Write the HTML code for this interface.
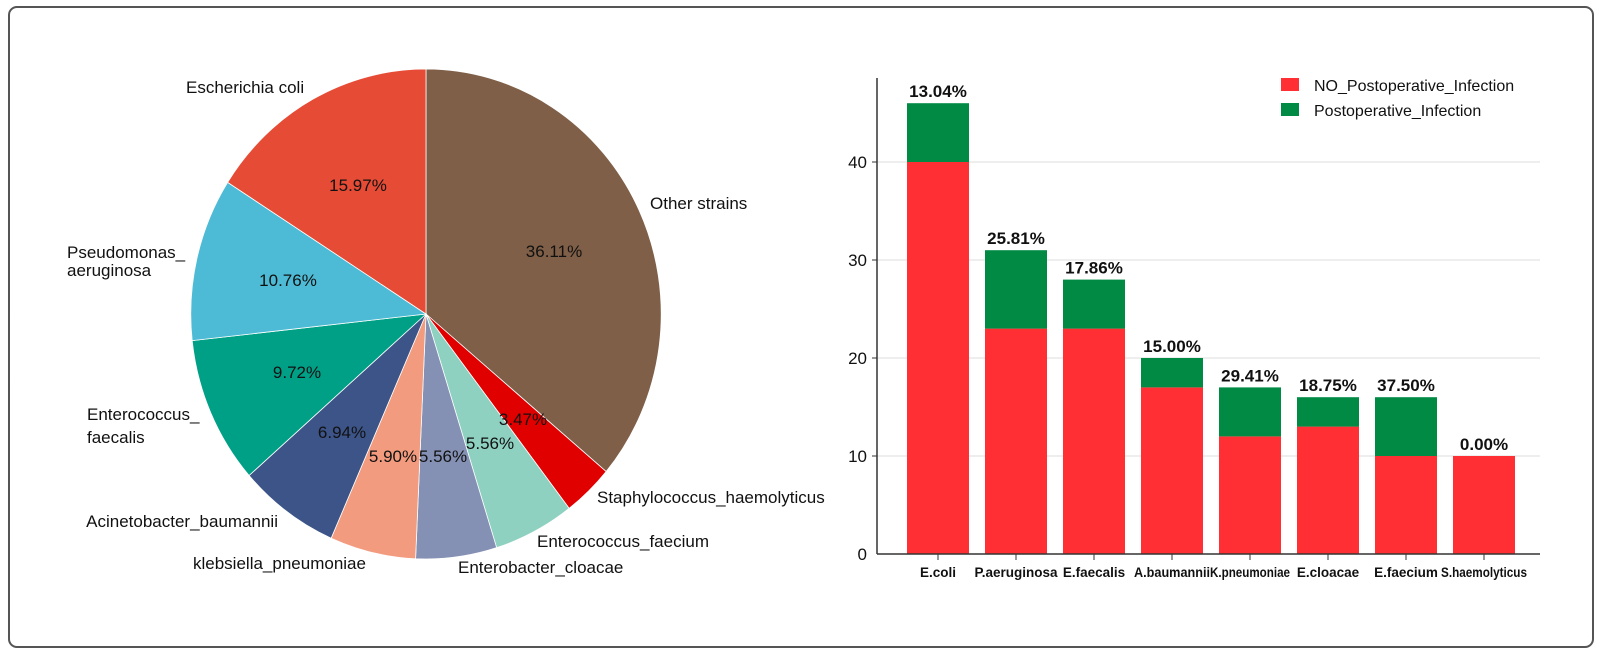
<!DOCTYPE html>
<html><head><meta charset="utf-8"><style>
body{margin:0;background:#fff;width:1600px;height:655px;overflow:hidden}
svg{font-family:"Liberation Sans",sans-serif}
</style></head><body>
<svg id="s" width="1600" height="655" xmlns="http://www.w3.org/2000/svg">
<rect x="9" y="7" width="1584" height="640" rx="8" fill="none" stroke="#555" stroke-width="2"/>
<g id="pie" transform="translate(426,314) scale(0.96,1)"></g>
<g font-size="17" fill="#111">
<text x="358" y="191" text-anchor="middle">15.97%</text>
<text x="288" y="286" text-anchor="middle">10.76%</text>
<text x="297" y="378" text-anchor="middle">9.72%</text>
<text x="342" y="438" text-anchor="middle">6.94%</text>
<text x="393" y="462" text-anchor="middle">5.90%</text>
<text x="443" y="462" text-anchor="middle">5.56%</text>
<text x="490" y="449" text-anchor="middle">5.56%</text>
<text x="523" y="425" text-anchor="middle">3.47%</text>
<text x="554" y="257" text-anchor="middle">36.11%</text>
<text x="186" y="93">Escherichia coli</text>
<text x="650" y="209">Other strains</text>
<text x="67" y="258">Pseudomonas_</text>
<text x="67" y="276">aeruginosa</text>
<text x="87" y="420">Enterococcus_</text>
<text x="87" y="443">faecalis</text>
<text x="278" y="527" text-anchor="end">Acinetobacter_baumannii</text>
<text x="193" y="569">klebsiella_pneumoniae</text>
<text x="458" y="573">Enterobacter_cloacae</text>
<text x="537" y="547">Enterococcus_faecium</text>
<text x="597" y="503">Staphylococcus_haemolyticus</text>
</g>
<g id="bars"></g>
<g font-size="16" fill="#111">
<rect x="1281" y="78" width="18" height="13" fill="#ff2f33"/>
<text x="1314" y="91">NO_Postoperative_Infection</text>
<rect x="1281" y="103" width="18" height="13" fill="#008a44"/>
<text x="1314" y="116">Postoperative_Infection</text>
</g>
</svg>
<script>
var NS="http://www.w3.org/2000/svg";
function el(p,t,a,txt){var e=document.createElementNS(NS,t);for(var k in a)if(a[k]!=null)e.setAttribute(k,a[k]);if(txt)e.textContent=txt;p.appendChild(e);return e;}
var r=245;
var d=[[36.11,"#7f5f47"],[3.47,"#e00000"],[5.56,"#8fd1c0"],[5.56,"#8491b4"],[5.90,"#f39b7f"],[6.94,"#3c5488"],[9.72,"#00a087"],[10.76,"#4dbbd5"],[15.97,"#e64b35"]];
var pie=document.getElementById("pie"),a=0;
d.forEach(function(s){var a2=a+s[0]/99.99*2*Math.PI;
var x1=r*Math.sin(a),y1=-r*Math.cos(a),x2=r*Math.sin(a2),y2=-r*Math.cos(a2);
el(pie,"path",{d:"M0,0L"+x1+","+y1+"A"+r+","+r+" 0 "+(a2-a>Math.PI?1:0)+" 1 "+x2+","+y2+"Z",fill:s[1],stroke:"#fff","stroke-width":0.8});a=a2;});
var g=document.getElementById("bars"),y0=554,u=9.8,ax=877;
[10,20,30,40].forEach(function(v){el(g,"line",{x1:ax,x2:1540,y1:y0-v*u,y2:y0-v*u,stroke:"#ddd"});
el(g,"line",{x1:ax-5,x2:ax,y1:y0-v*u,y2:y0-v*u,stroke:"#333"});});
[0,10,20,30,40].forEach(function(v){el(g,"text",{x:ax-10,y:y0-v*u+6,"text-anchor":"end","font-size":17,fill:"#111"},String(v));});
var B=[["E.coli",40,6,"13.04%"],["P.aeruginosa",23,8,"25.81%"],["E.faecalis",23,5,"17.86%"],["A.baumannii",17,3,"15.00%"],["K.pneumoniae",12,5,"29.41%"],["E.cloacae",13,3,"18.75%"],["E.faecium",10,6,"37.50%"],["S.haemolyticus",10,0,"0.00%"]];
B.forEach(function(b,i){var c=938+78*i;
el(g,"rect",{x:c-31,y:y0-b[1]*u,width:62,height:b[1]*u,fill:"#ff2f33"});
if(b[2])el(g,"rect",{x:c-31,y:y0-(b[1]+b[2])*u,width:62,height:b[2]*u,fill:"#008a44"});
el(g,"text",{x:c,y:y0-(b[1]+b[2])*u-6,"text-anchor":"middle","font-size":17,"font-weight":"bold",fill:"#111"},b[3]);
el(g,"line",{x1:c,x2:c,y1:y0,y2:y0+6,stroke:"#333"});
var tl=b[0]=="K.pneumoniae"?80:(b[0]=="S.haemolyticus"?86:(b[0]=="A.baumannii"?76:null));
el(g,"text",{x:c,y:y0+23,"text-anchor":"middle","font-size":13.5,"font-weight":"bold",fill:"#111",textLength:tl,lengthAdjust:tl?"spacingAndGlyphs":null},b[0]);});
el(g,"line",{x1:ax,x2:ax,y1:78,y2:y0,stroke:"#333","stroke-width":1.5});
el(g,"line",{x1:ax,x2:1540,y1:y0,y2:y0,stroke:"#333","stroke-width":1.5});
</script>
</body></html>
